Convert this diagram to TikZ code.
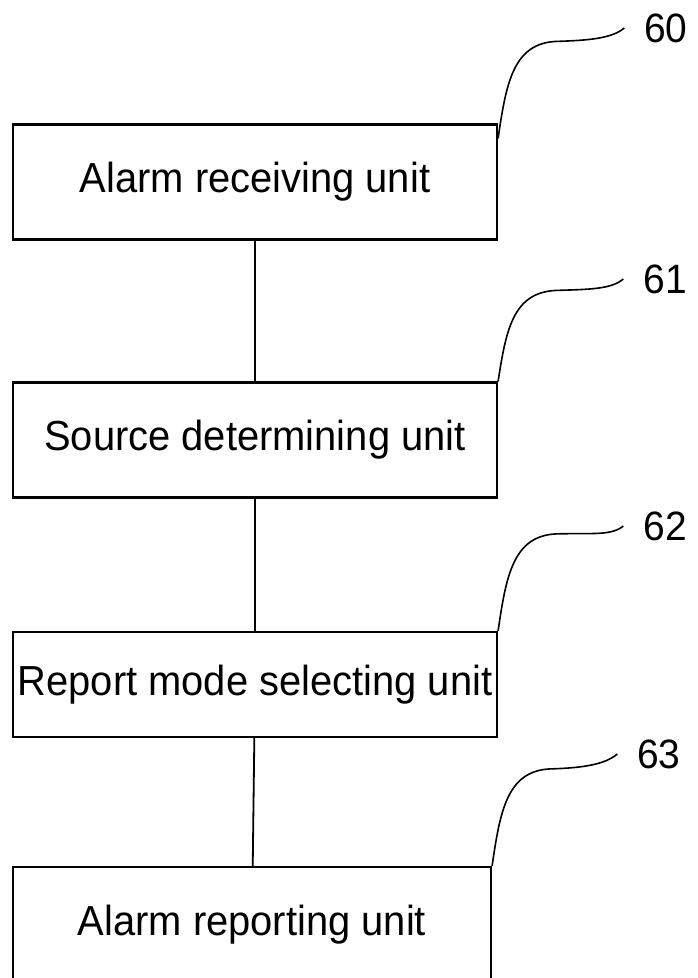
\documentclass[tikz,border=0pt]{standalone}
\usepackage{fontspec}
\setmainfont[FakeStretch=0.95]{Liberation Sans}
\usetikzlibrary{calc}

\tikzset{
    unitbox/.style={draw, line width=2.2pt, minimum width=484pt, minimum height=115pt,
        inner sep=0pt, font=\fontsize{42}{48}\selectfont},
    reflabel/.style={inner sep=0pt, outer sep=20pt, font=\fontsize{41}{48}\selectfont},
    leader/.style={line width=1.6pt},
    link/.style={line width=1.8pt}
}

\begin{document}
\begin{tikzpicture}[x=1pt, y=-1pt]
    \useasboundingbox (0,0) rectangle (697,978);

    % units
    \node[unitbox] (recv) at (255,182) {Alarm receiving unit};
    \node[unitbox] (source) at (255,440) {Source determining unit};
    \node[unitbox, minimum height=105pt] (mode) at (255,684.5) {Report mode selecting unit};
    \node[unitbox, minimum width=478pt] (report) at (252,924.5) {Alarm reporting unit};

    % links between units
    \draw[link] (recv) -- (source);
    \draw[link] (source) -- (mode);
    \draw[link] (mode) -- (report);

    % reference numerals
    \node[reflabel] (n60) at (666,28) {60};
    \node[reflabel] (n61) at (665,279) {61};
    \node[reflabel] (n62) at (665,526) {62};
    \node[reflabel] (n63) at (659,754) {63};

    % leader lines
    \draw[leader] ([yshift=-15pt]recv.north east) .. controls +(8,-55) and +(-43,2) .. ++(58,-97)
        .. controls +(35,-1) and +(-12,10) .. (n60.west);
    \draw[leader] (source.north east) .. controls +(8,-52) and +(-43,2) .. ++(58,-91)
        .. controls +(35,-1) and +(-12,10) .. (n61.west);
    \draw[leader] (mode.north east) .. controls +(8,-55) and +(-43,2) .. ++(58,-97)
        .. controls +(35,-1) and +(-12,10) .. (n62.west);
    \draw[leader] (report.north east) .. controls +(8,-55) and +(-43,2) .. ++(58,-97)
        .. controls +(35,-1) and +(-12,10) .. (n63.west);
\end{tikzpicture}
\end{document}
